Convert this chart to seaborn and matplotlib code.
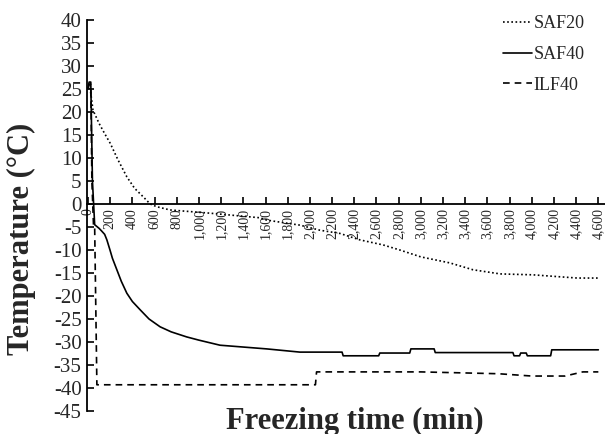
import pandas as pd
import matplotlib
matplotlib.use("Agg")
import matplotlib.pyplot as plt
import seaborn as sns

# 데이터
saf20_time = [0, 10, 20, 45, 100, 150, 200, 270, 350, 420, 500, 560, 620, 740, 1100, 1550, 1610, 1910,
              2090, 2270, 2450, 2660, 2810, 3000, 3260, 3470, 3715, 4010, 4410, 4600]
saf20_temp = [25.0, 26.0, 25.0, 20.4, 17.5, 15.3, 13.2, 9.6, 5.9, 3.4, 1.5, 0.0, -0.6, -1.3, -2.0, -3.0,
              -3.5, -4.6, -5.7, -6.4, -7.8, -8.9, -10.0, -11.5, -12.8, -14.3, -15.2, -15.4, -16.1, -16.1]

saf40_time = [0, 10, 25, 40, 60, 100, 120, 150, 170, 198, 220, 260, 300, 350, 400, 470, 550, 650, 750,
              890, 1000, 1190, 1400, 1610, 1910, 2290, 2300, 2620, 2630, 2900, 2910, 3120, 3130, 3830,
              3840, 3890, 3900, 3950, 3960, 4170, 4180, 4600]
saf40_temp = [25.0, 26.5, 26.5, 5.0, -4.5, -5.3, -5.8, -6.6, -7.8, -10.0, -11.8, -14.3, -16.8, -19.4,
              -21.2, -23.0, -25.0, -26.7, -27.8, -28.9, -29.6, -30.7, -31.1, -31.5, -32.2, -32.2, -33.0,
              -33.0, -32.4, -32.4, -31.5, -31.5, -32.3, -32.3, -33.0, -33.0, -32.4, -32.4, -33.0, -33.0,
              -31.7, -31.7]

ilf40_time = [0, 10, 25, 35, 50, 60, 80, 2050, 2060, 3000, 3700, 4000, 4300, 4460, 4600]
ilf40_temp = [25.0, 26.0, 26.0, 5.0, -5.0, -5.0, -39.3, -39.3, -36.5, -36.5, -36.9, -37.4, -37.4, -36.5, -36.5]

series = {
    "SAF20": (saf20_time, saf20_temp),
    "SAF40": (saf40_time, saf40_temp),
    "ILF40": (ilf40_time, ilf40_temp),
}
df = pd.concat(
    [pd.DataFrame({"time": t, "temp": v, "sample": name}) for name, (t, v) in series.items()],
    ignore_index=True,
)

x_ticks = list(range(0, 4601, 200))
x_labels = ["0"] + [f"{t:,}" for t in x_ticks[1:]]
y_ticks = list(range(-45, 41, 5))

sns.set_style("white")
plt.rcParams["font.family"] = ["Liberation Serif", "DejaVu Serif"]

fig = plt.figure(figsize=(6.05, 4.34), dpi=100)
ax = fig.add_axes([0.144, 0.053, 0.856, 0.901])

sns.lineplot(
    data=df, x="time", y="temp", hue="sample", style="sample",
    palette={"SAF20": "black", "SAF40": "black", "ILF40": "black"},
    dashes={"SAF20": (1, 1.5), "SAF40": "", "ILF40": (4, 3)},
    estimator=None, sort=False, linewidth=1.2, ax=ax,
)

ax.set_xlim(-8, 4660)
ax.set_ylim(-45, 40)
ax.set_xticks(x_ticks)
ax.set_xticklabels(x_labels, fontsize=9, color="#333333")
ax.set_yticks(y_ticks)
ax.set_yticklabels([str(v) for v in y_ticks], fontsize=15)

ax.spines["bottom"].set_position(("data", 0))
ax.spines["top"].set_visible(False)
ax.spines["right"].set_visible(False)
for s in ["left", "bottom"]:
    ax.spines[s].set_color("black")
    ax.spines[s].set_linewidth(1.3)
ax.tick_params(axis="both", direction="in", length=5, width=1.2, color="black", left=True, bottom=True)
ax.tick_params(axis="x", pad=3, labelrotation=90)
ax.tick_params(axis="y", pad=4)
ax.set_xlabel("")
ax.set_ylabel("")

fig.text(0.587, 0.03, "Freezing time (min)", ha="center", va="center", fontsize=22, fontweight="bold")
fig.text(0.036, 0.45, "Temperature (\u00b0C)", ha="center", va="center", rotation=90,
         fontsize=22, fontweight="bold")

leg = ax.legend(loc="upper right", bbox_to_anchor=(0.975, 1.03), frameon=False, fontsize=13,
                handlelength=1.6, handletextpad=0.1, labelspacing=0.75, borderaxespad=0.0)
for line in leg.get_lines():
    line.set_linewidth(1.2)

fig.savefig("out.png", dpi=100)
